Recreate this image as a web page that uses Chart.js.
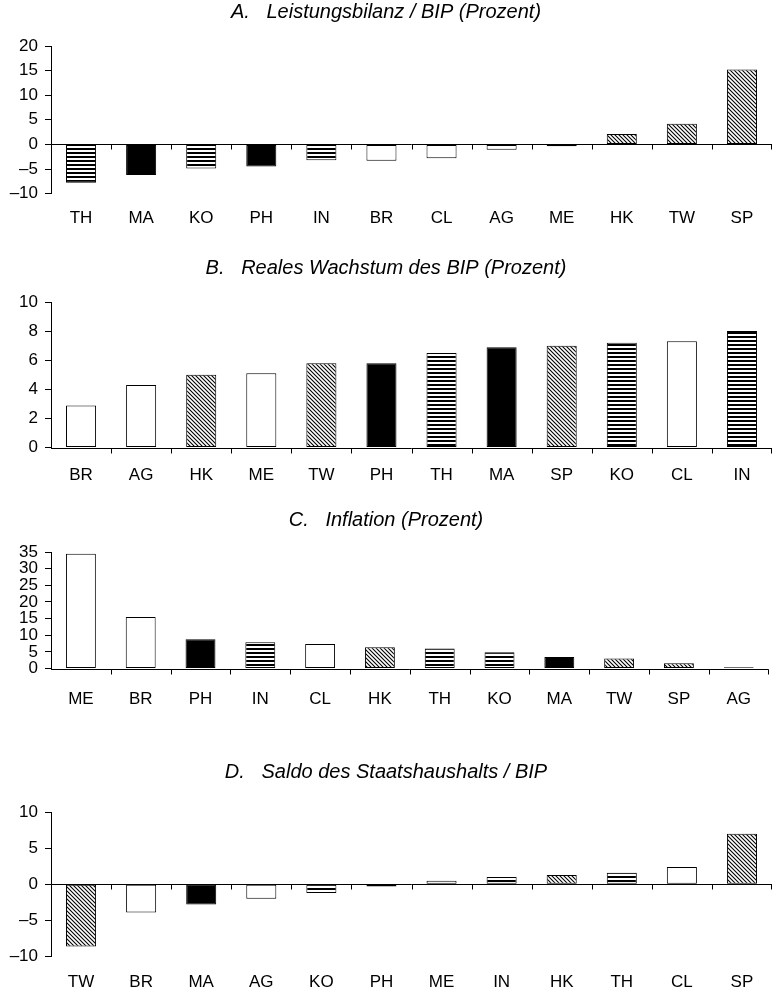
<!DOCTYPE html>
<html>
<head>
<meta charset="utf-8">
<script src="https://cdn.jsdelivr.net/npm/chart.js@4/dist/chart.umd.min.js"></script>
<style>
  html, body { margin: 0; padding: 0; background: #fff; overflow: hidden; }
  .panel { position: absolute; left: 0; width: 772px; }
</style>
</head>
<body>
<div class="panel" style="top:0px;height:244px"><canvas id="chartA"></canvas></div>
<div class="panel" style="top:256px;height:248px"><canvas id="chartB"></canvas></div>
<div class="panel" style="top:508px;height:223px"><canvas id="chartC"></canvas></div>
<div class="panel" style="top:760px;height:249px"><canvas id="chartD"></canvas></div>
<script>
// A. Leistungsbilanz / BIP
const labelsA = ['TH', 'MA', 'KO', 'PH', 'IN', 'BR', 'CL', 'AG', 'ME', 'HK', 'TW', 'SP'];
const valuesA = [-7.8, -6.2, -4.9, -4.5, -3.2, -3.3, -2.8, -1.1, -0.4, 2.1, 4.2, 15.2];
const ticksA = [-10, -5, 0, 5, 10, 15, 20];

// B. Reales Wachstum des BIP
const labelsB = ['BR', 'AG', 'HK', 'ME', 'TW', 'PH', 'TH', 'MA', 'SP', 'KO', 'CL', 'IN'];
const valuesB = [2.9, 4.3, 5.0, 5.1, 5.8, 5.8, 6.5, 6.9, 7.0, 7.2, 7.3, 8.0];
const ticksB = [0, 2, 4, 6, 8, 10];

// C. Inflation
const labelsC = ['ME', 'BR', 'PH', 'IN', 'CL', 'HK', 'TH', 'KO', 'MA', 'TW', 'SP', 'AG'];
const valuesC = [34.5, 15.5, 8.8, 7.9, 7.4, 6.4, 6.0, 4.9, 3.5, 3.0, 1.6, 0.4];
const ticksC = [0, 5, 10, 15, 20, 25, 30, 35];

// D. Saldo des Staatshaushalts / BIP
const labelsD = ['TW', 'BR', 'MA', 'AG', 'KO', 'PH', 'ME', 'IN', 'HK', 'TH', 'CL', 'SP'];
const valuesD = [-8.6, -3.9, -2.8, -2.0, -1.2, -0.3, 0.5, 1.0, 1.3, 1.6, 2.4, 7.0];
const ticksD = [-10, -5, 0, 5, 10];

const FONT = "'Liberation Sans', Arial, sans-serif";

// fill type per country
const fillType = {
  TH: 'stripe', KO: 'stripe', IN: 'stripe',
  MA: 'black', PH: 'black',
  BR: 'white', CL: 'white', AG: 'white', ME: 'white',
  HK: 'hatch', TW: 'hatch', SP: 'hatch'
};

function makeStripes(ctx) {
  const c = document.createElement('canvas');
  c.width = 8; c.height = 4;
  const g = c.getContext('2d');
  g.fillStyle = '#fff';
  g.fillRect(0, 0, 8, 4);
  g.fillStyle = '#000';
  g.fillRect(0, 0, 8, 2);
  return ctx.createPattern(c, 'repeat');
}

function makeHatch(ctx) {
  const c = document.createElement('canvas');
  c.width = 4; c.height = 4;
  const g = c.getContext('2d');
  g.fillStyle = '#fff';
  g.fillRect(0, 0, 4, 4);
  g.strokeStyle = '#000';
  g.lineWidth = 1.1;
  g.beginPath();
  g.moveTo(-1, -1); g.lineTo(5, 5);
  g.moveTo(-1, 3); g.lineTo(1, 5);
  g.moveTo(3, -1); g.lineTo(5, 1);
  g.stroke();
  return ctx.createPattern(c, 'repeat');
}

function fillsFor(ctx, labels) {
  const stripes = makeStripes(ctx);
  const hatch = makeHatch(ctx);
  return labels.map(l => {
    const t = fillType[l];
    if (t === 'stripe') return stripes;
    if (t === 'hatch') return hatch;
    if (t === 'black') return '#000';
    return '#fff';
  });
}

// zero line with small ticks between categories
const zeroAxis = {
  id: 'zeroAxis',
  afterDatasetsDraw(chart) {
    const { ctx, chartArea, scales } = chart;
    const x = scales.x, y = scales.y;
    const y0 = Math.round(y.getPixelForValue(0)) + 0.5;
    ctx.save();
    ctx.strokeStyle = '#000';
    ctx.lineWidth = 1;
    ctx.beginPath();
    ctx.moveTo(chartArea.left, y0);
    ctx.lineTo(chartArea.right, y0);
    const n = chart.data.labels.length;
    for (let i = 0; i < n; i++) {
      const xb = i < n - 1
        ? (x.getPixelForTick(i) + x.getPixelForTick(i + 1)) / 2
        : chartArea.right - 1;
      const xr = Math.round(xb) + 0.5;
      ctx.moveTo(xr, y0);
      ctx.lineTo(xr, y0 + 5);
    }
    ctx.stroke();
    ctx.restore();
  }
};

function makeChart(id, title, labels, values, tickVals, opts) {
  const ctx = document.getElementById(id).getContext('2d');
  return new Chart(ctx, {
    type: 'bar',
    data: {
      labels: labels,
      datasets: [{
        data: values,
        backgroundColor: fillsFor(ctx, labels),
        borderColor: '#000',
        borderWidth: 1,
        borderSkipped: false,
        categoryPercentage: 1,
        barPercentage: 0.5
      }]
    },
    options: {
      responsive: true,
      maintainAspectRatio: false,
      animation: false,
      layout: { padding: 0 },
      plugins: {
        legend: { display: false },
        tooltip: { enabled: false },
        title: {
          display: true,
          text: title,
          color: '#000',
          font: { family: FONT, size: 20, style: 'italic', weight: 'normal' },
          padding: { top: 0, bottom: opts.titleGap }
        }
      },
      scales: {
        x: {
          grid: { display: false, drawTicks: false },
          border: { display: false },
          ticks: {
            color: '#000',
            font: { family: FONT, size: 17 },
            padding: opts.labelGap,
            maxRotation: 0,
            autoSkip: false
          }
        },
        y: {
          min: tickVals[0],
          max: tickVals[tickVals.length - 1],
          afterBuildTicks: s => { s.ticks = tickVals.map(v => ({ value: v })); },
          afterFit: s => { s.width = 51; },
          grid: { drawOnChartArea: false, drawTicks: true, tickLength: 6, color: '#000' },
          border: { display: true, color: '#000', width: 1 },
          ticks: {
            color: '#000',
            font: { family: FONT, size: 17 },
            padding: 7,
            autoSkip: false,
            callback: v => String(v).replace('-', '\u2013')
          }
        }
      }
    },
    plugins: [zeroAxis]
  });
}

makeChart('chartA', 'A.   Leistungsbilanz / BIP (Prozent)', labelsA, valuesA, ticksA, { titleGap: 22, labelGap: 15 });
makeChart('chartB', 'B.   Reales Wachstum des BIP (Prozent)', labelsB, valuesB, ticksB, { titleGap: 22, labelGap: 18 });
makeChart('chartC', 'C.   Inflation (Prozent)', labelsC, valuesC, ticksC, { titleGap: 20, labelGap: 21 });
makeChart('chartD', 'D.   Saldo des Staatshaushalts / BIP', labelsD, valuesD, ticksD, { titleGap: 28, labelGap: 16 });
</script>
</body>
</html>
